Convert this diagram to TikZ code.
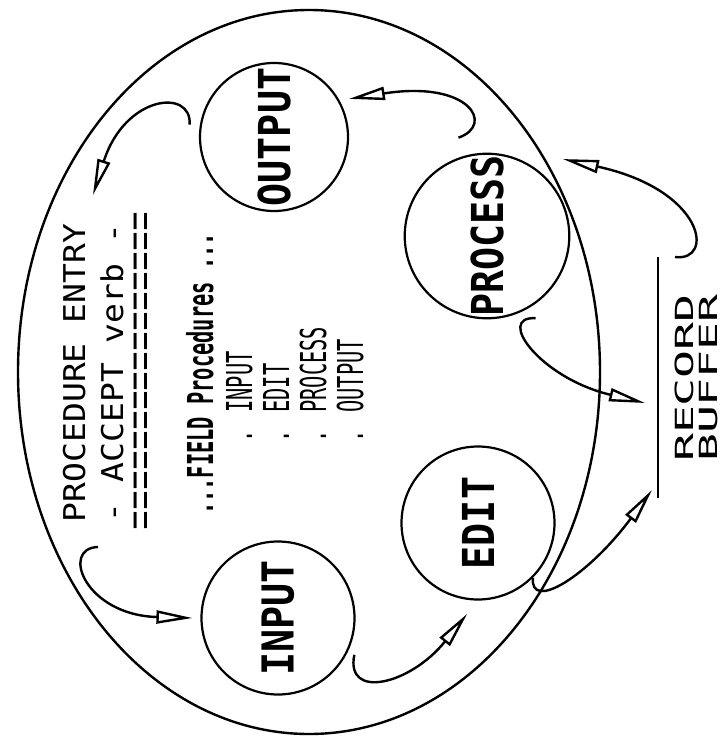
\documentclass[tikz,border=0pt]{standalone}
\usepackage{fontspec}
\usepackage{graphicx}
\usepackage{tikz}
\usetikzlibrary{arrows.meta}
\usetikzlibrary{calc,shapes.geometric}
\newfontfamily\plotfont[FakeStretch=1.1]{DejaVu Sans Mono}
\newfontfamily\rulefont{Liberation Mono}
\newfontfamily\widefont[FakeStretch=1.86]{DejaVu Sans Mono}
\newfontfamily\narrowfont[FakeStretch=0.57]{DejaVu Sans Mono}
\newfontfamily\stagefont[FakeStretch=0.87]{DejaVu Sans Mono}
\tikzset{%
  >={Triangle[open,width=13pt,length=36pt]},
  % Specifications for style of nodes:
  stage/.style = {circle, draw=black, line width=2.2pt,
    minimum size=153pt, inner sep=0pt,
    font=\stagefont\bfseries\fontsize{44}{48}\selectfont},
  entryText/.style = {rotate=90, inner sep=0pt, anchor=base,
    font=\plotfont\fontsize{30}{36}\selectfont},
  listItem/.style = {rotate=90, inner sep=0pt, anchor=base west,
    font=\narrowfont\bfseries\fontsize{35.7}{40}\selectfont},
  flow/.style = {->, line width=2.4pt},
}

\begin{document}
\begin{tikzpicture}[x=1pt, y=-1pt]
  \useasboundingbox (0,0) rectangle (724,744);
  % outer ring
  \node(ring)[ellipse, draw=black, line width=2.4pt, inner sep=0pt,
    minimum width=582pt, minimum height=724pt] at (309,372) {};
  % the four field procedures
  \node(output)[stage, minimum size=148pt] at (274,137) {\rotatebox{90}{OUTPUT}};
  \node(process)[stage] at (487,236) {\rotatebox{90}{PROCESS}};
  \node(edit)[stage] at (478,523) {\rotatebox{90}{EDIT}};
  \node(input)[stage] at (278,618) {\rotatebox{90}{INPUT}};
  % procedure entry text
  \node(entry)[entryText] at (85,373) {PROCEDURE ENTRY};
  \node(verb)[entryText] at (123,373) {- ACCEPT verb -};
  \node(rule)[entryText, font=\rulefont\fontsize{33.3}{36}\selectfont] at (154,371)
    {\scalebox{1}[1.25]{================}};
  \node(field)[listItem, anchor=base] at (213,374) {...FIELD Procedures ...};
  \node(itemInput)[listItem, font=\narrowfont\fontsize{35.7}{40}\selectfont] at (252,443) {.\hspace{18pt}INPUT};
  \node(itemEdit)[listItem, font=\narrowfont\fontsize{35.7}{40}\selectfont] at (289,443) {.\hspace{18pt}EDIT};
  \node(itemProcess)[listItem, font=\narrowfont\fontsize{35.7}{40}\selectfont] at (326,443) {.\hspace{18pt}PROCESS};
  \node(itemOutput)[listItem, font=\narrowfont\fontsize{35.7}{40}\selectfont] at (363,443) {.\hspace{18pt}OUTPUT};
  % record buffer
  \node(record)[entryText, font=\widefont\fontsize{25}{30}\selectfont] at (693,378) {RECORD};
  \node(buffer)[entryText, font=\widefont\fontsize{25}{30}\selectfont] at (717,378) {BUFFER};
  \coordinate(bufTop) at (658,257);
  \coordinate(bufBottom) at (658,498);
  \draw[line width=2pt] (bufTop) -- (bufBottom);
  % free ends of the connectors
  \coordinate(entryTail) at (98,547);
  \coordinate(entryHead) at (93,195);
  \coordinate(bufFromEdit) at (652,490);
  \coordinate(bufFromProcess) at (645,403);
  \coordinate(bufTail) at (675,257);
  % connectors
  \draw[flow] (entryTail) .. controls (60,548) and (85,615) .. ([xshift=-8pt]input.west);
  \draw[flow] ($(input.-25)+(6,4)$) .. controls (345,700) and (410,685) .. ($(edit.-98)+(0,14)$);
  \draw[flow] (edit.-45) .. controls (530,612) and (588,576) .. (bufFromEdit);
  \draw[flow] ($(process.-60)+(7,10)$) .. controls (495,316) and (540,378) .. (bufFromProcess);
  \draw[flow] (bufTail) .. controls (715,262) and (705,190) .. ($(process.45)+(17,-18)$);
  \draw[flow] ($(process.110)+(0,-20)$) .. controls (495,125) and (470,80) .. ($(output.27)+(8,-4)$);
  \draw[flow] ($(output.172)+(-10,-2)$) .. controls (192,88) and (125,95) .. (entryHead);
\end{tikzpicture}
\end{document}
